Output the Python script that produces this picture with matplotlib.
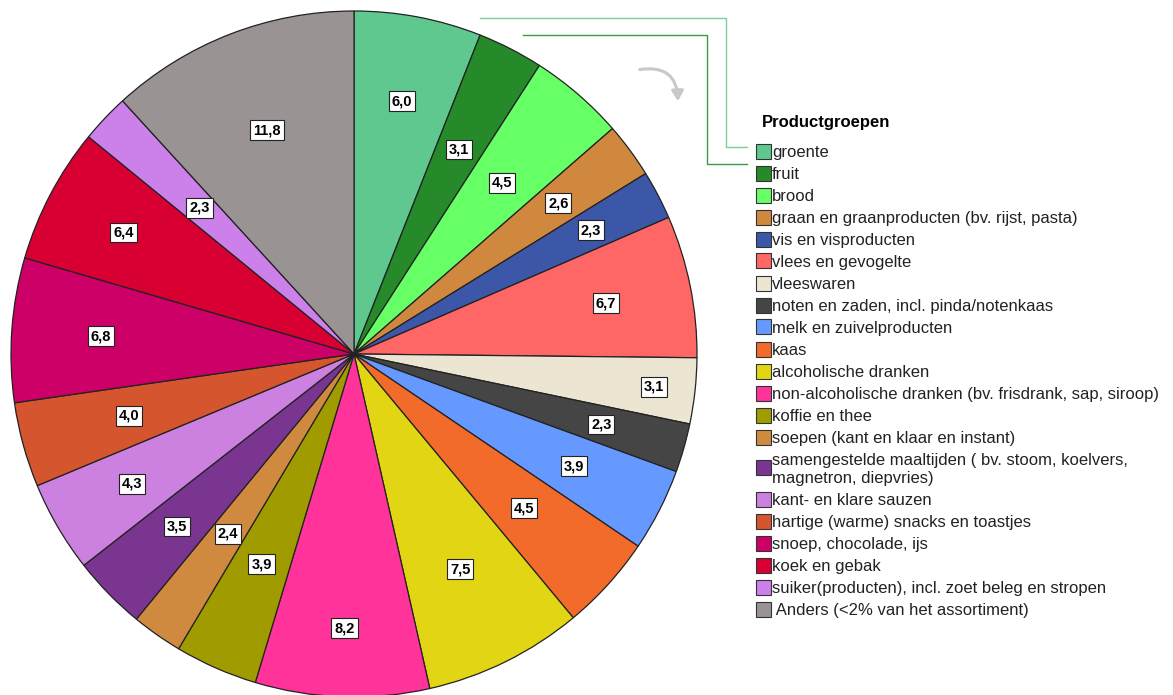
import matplotlib
matplotlib.use("Agg")
import numpy as np
import matplotlib.pyplot as plt
from matplotlib.patches import Rectangle, FancyArrowPatch
from matplotlib.lines import Line2D

plt.rcParams["font.family"] = ["Liberation Sans", "DejaVu Sans"]

# productgroepen, percentage van het assortiment (met de klok mee vanaf 12 uur)
groepen = [
    "groente", "fruit", "brood",
    "graan en graanproducten (bv. rijst, pasta)",
    "vis en visproducten", "vlees en gevogelte", "vleeswaren",
    "noten en zaden, incl. pinda/notenkaas",
    "melk en zuivelproducten", "kaas", "alcoholische dranken",
    "non-alcoholische dranken (bv. frisdrank, sap, siroop)",
    "koffie en thee", "soepen (kant en klaar en instant)",
    "samengestelde maaltijden ( bv. stoom, koelvers,\nmagnetron, diepvries)",
    "kant- en klare sauzen", "hartige (warme) snacks en toastjes",
    "snoep, chocolade, ijs", "koek en gebak",
    "suiker(producten), incl. zoet beleg en stropen",
    " Anders (<2% van het assortiment)",
]
waarden = [6.0, 3.1, 4.5, 2.6, 2.3, 6.7, 3.1, 2.3, 3.9, 4.5, 7.5,
           8.2, 3.9, 2.4, 3.5, 4.3, 4.0, 6.8, 6.4, 2.3, 11.8]
kleuren = ["#5EC88F", "#268A2B", "#66FF66", "#D0883E", "#3C56A8", "#FF6666",
           "#ECE5D2", "#454545", "#6699FF", "#F26B2B", "#E2D614", "#FF3399",
           "#A09C00", "#D08A40", "#7A3590", "#CC80E0", "#D4552E", "#CC0066",
           "#D80033", "#CC80EA", "#9A9393"]
# afstand van de labels tot het midden (fractie van de straal)
label_r = [0.75, 0.67, 0.66, 0.74, 0.78, 0.75, 0.88, 0.75, 0.72, 0.67, 0.70,
           0.80, 0.67, 0.64, 0.72, 0.75, 0.68, 0.74, 0.76, 0.62, 0.70]

W, H = 1173, 695
fig = plt.figure(figsize=(W / 100, H / 100), dpi=100)

# pie axes: centre ~ (354, 354) px, radius ~343 px
cx, cy, R = 354, 354, 343
ax = fig.add_axes([(cx - R) / W, (H - cy - R) / H, 2 * R / W, 2 * R / H])
wedges, _ = ax.pie(waarden, colors=kleuren, startangle=90, counterclock=False,
                   wedgeprops=dict(edgecolor="#222222", linewidth=0.9))
ax.set_xlim(-1, 1)
ax.set_ylim(-1, 1)
ax.axis("off")

for w, v, r in zip(wedges, waarden, label_r):
    ang = np.deg2rad((w.theta1 + w.theta2) / 2)
    ax.text(r * np.cos(ang), r * np.sin(ang), f"{v:.1f}".replace(".", ","),
            ha="center", va="center", fontsize=10.5, fontweight="bold",
            bbox=dict(boxstyle="square,pad=0.2", fc="white", ec="#222222", lw=0.8))

# legend drawn by hand in pixel coordinates
def fx(x):
    return x / W

def fy(y):
    return 1 - y / H

fig.text(fx(762), fy(122), "Productgroepen", fontsize=12, fontweight="bold",
         va="center", ha="left")
y = 151
for naam, kleur in zip(groepen, kleuren):
    n = naam.count("\n") + 1
    yc = y + (n - 1) * 8.5
    fig.patches.append(Rectangle((fx(756), fy(yc + 7.5)), 15 / W, 15 / H,
                                 transform=fig.transFigure, fc=kleur,
                                 ec="#333333", lw=0.8))
    fig.text(fx(772), fy(yc + 1.5), naam, fontsize=12, va="center", ha="left",
             color="#222222", linespacing=1.25)
    y += 22 + (n - 1) * 18

# connector lines from the first two slices to the legend
for pts, kl in [([(480, 18), (726, 18), (726, 147), (747, 147)], "#7FCF9A"),
                ([(523, 35), (707, 35), (707, 164), (747, 164)], "#3C9A48")]:
    xs = [fx(p[0]) for p in pts]
    ys = [fy(p[1]) for p in pts]
    fig.lines.append(Line2D(xs, ys, transform=fig.transFigure, color=kl, lw=1))

# draairichting pijl
fig.patches.append(FancyArrowPatch((fx(637), fy(70)), (fx(678), fy(104)),
                                   transform=fig.transFigure,
                                   connectionstyle="arc3,rad=-0.6",
                                   arrowstyle="-|>,head_length=6,head_width=3.5",
                                   color="#C8C8C8", lw=2.2))

fig.savefig("out.png", dpi=100)
